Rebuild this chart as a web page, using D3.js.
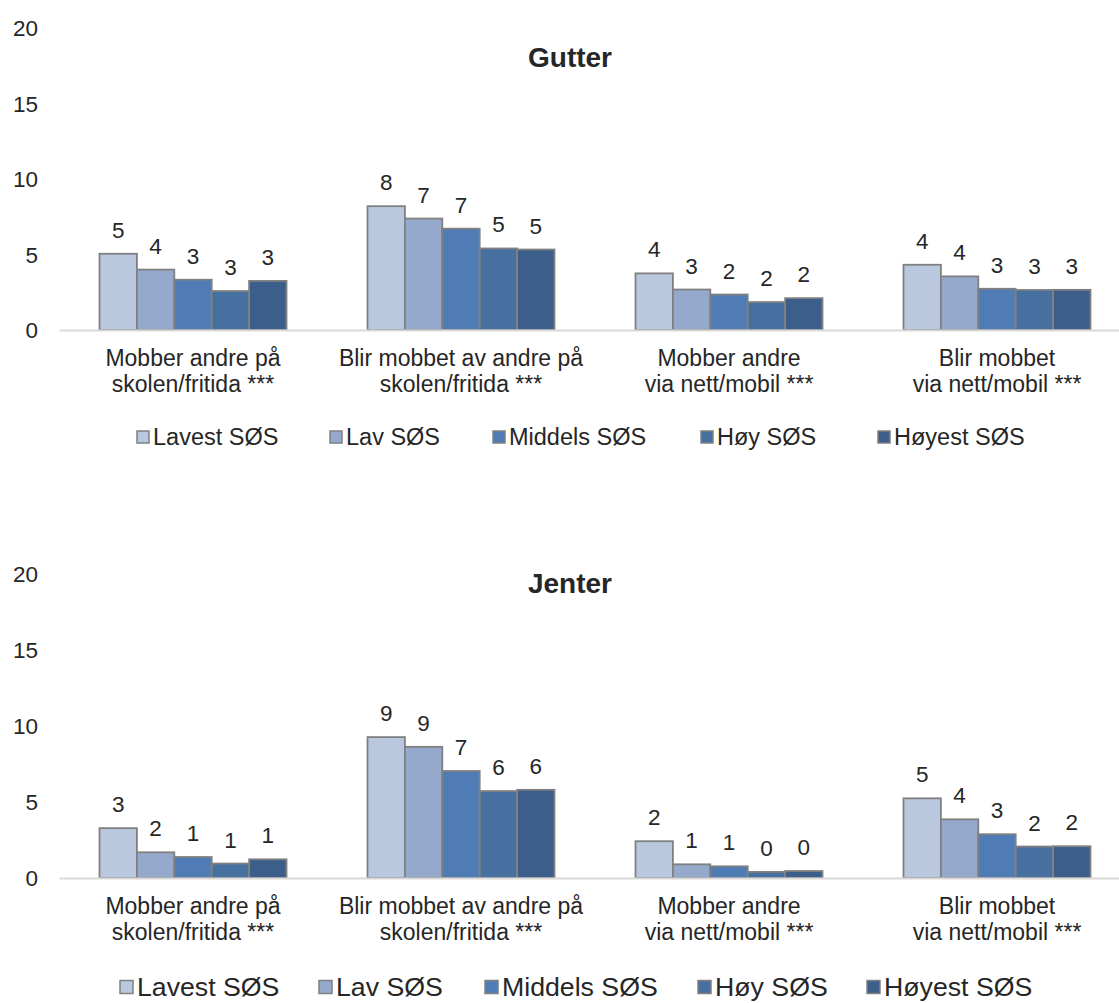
<!DOCTYPE html>
<html>
<head>
<meta charset="utf-8">
<script src="https://cdn.jsdelivr.net/npm/d3@7"></script>
<style>
  html, body { margin: 0; padding: 0; background: #fff; }
  svg { display: block; font-family: "Liberation Sans", Arial, sans-serif; }
</style>
</head>
<body>
<svg id="chart" width="1119" height="1003"></svg>
<script>
// ---------- data ----------
const categories = [
  ["Mobber andre på", "skolen/fritida ***"],
  ["Blir mobbet av andre på", "skolen/fritida ***"],
  ["Mobber andre", "via nett/mobil ***"],
  ["Blir mobbet", "via nett/mobil ***"]
];
const seriesNames = ["Lavest SØS", "Lav SØS", "Middels SØS", "Høy SØS", "Høyest SØS"];
const yTicks = [0, 5, 10, 15, 20];

// Gutter (boys): one array per series, values per category
const gutterLavest  = [5.05, 8.20, 3.75, 4.32];
const gutterLav     = [4.00, 7.38, 2.68, 3.55];
const gutterMiddels = [3.33, 6.71, 2.35, 2.73];
const gutterHoy     = [2.58, 5.40, 1.85, 2.65];
const gutterHoyest  = [3.25, 5.33, 2.11, 2.66];

// Jenter (girls)
const jenterLavest  = [3.28, 9.27, 2.42, 5.24];
const jenterLav     = [1.69, 8.63, 0.90, 3.86];
const jenterMiddels = [1.38, 7.04, 0.77, 2.88];
const jenterHoy     = [0.95, 5.72, 0.40, 2.07];
const jenterHoyest  = [1.23, 5.80, 0.46, 2.09];

const gutterSeries = [gutterLavest, gutterLav, gutterMiddels, gutterHoy, gutterHoyest];
const jenterSeries = [jenterLavest, jenterLav, jenterMiddels, jenterHoy, jenterHoyest];

// ---------- styles ----------
const colors = ["#bac8df", "#94a9cb", "#4f7cb4", "#46709f", "#3b5e8b"];
const textColor = "#262626";
const svg = d3.select("#chart");

function drawPanel(cfg) {
  const { title, seriesData, y0, y20, titleY, catY, legendY, legendX, legendFont, legendBox } = cfg;
  const g = svg.append("g");

  const x0 = d3.scaleBand().domain(d3.range(categories.length)).range([59, 1131]).paddingInner(0).paddingOuter(0);
  const groupW = 187;
  const x1 = d3.scaleBand().domain(d3.range(seriesNames.length))
    .range([(x0.bandwidth() - groupW) / 2, (x0.bandwidth() + groupW) / 2]);
  const y = d3.scaleLinear().domain([0, 20]).range([y0, y20]);

  // y axis labels (no line)
  const yAxis = d3.axisLeft(y).tickValues(yTicks).tickSize(0).tickPadding(0);
  const ya = g.append("g").attr("transform", "translate(38,0)").call(yAxis);
  ya.select(".domain").remove();
  ya.selectAll("text").attr("font-size", 22.5).attr("fill", textColor)
    .attr("font-family", "'Liberation Sans', Arial, sans-serif").attr("dy", "0.35em");

  // title
  g.append("text").attr("x", 570).attr("y", titleY).attr("text-anchor", "middle")
    .attr("font-size", 28).attr("font-weight", "bold").attr("fill", textColor).text(title);

  // bars
  const groups = g.selectAll("g.grp").data(categories).join("g")
    .attr("class", "grp").attr("transform", (d, i) => `translate(${x0(i)},0)`);
  groups.each(function (cat, ci) {
    const gg = d3.select(this);
    seriesNames.forEach((s, si) => {
      const v = seriesData[si][ci];
      gg.append("rect")
        .attr("x", x1(si)).attr("width", x1.bandwidth())
        .attr("y", y(v)).attr("height", y(0) - y(v))
        .attr("fill", colors[si]).attr("stroke", "#808080").attr("stroke-width", 1.8);
      gg.append("text")
        .attr("x", x1(si) + x1.bandwidth() / 2).attr("y", y(v) - 16)
        .attr("text-anchor", "middle").attr("font-size", 22.5).attr("fill", textColor)
        .text(d3.format(".0f")(v));
    });
  });

  // x axis line
  const xAxis = d3.axisBottom(x0).tickSize(0).tickFormat("");
  const xa = g.append("g").attr("transform", `translate(0,${y(0)})`).call(xAxis);
  xa.select(".domain").attr("stroke", "#d9d9d9").attr("stroke-width", 2);

  // category labels
  categories.forEach((lines, ci) => {
    const t = g.append("text").attr("text-anchor", "middle").attr("font-size", 23).attr("fill", textColor);
    lines.forEach((ln, li) => {
      t.append("tspan").attr("x", x0(ci) + x0.bandwidth() / 2).attr("y", catY + li * 25.5).text(ln);
    });
  });

  // legend
  seriesNames.forEach((s, si) => {
    const lx = legendX[si];
    g.append("rect").attr("x", lx).attr("y", legendY - legendBox / 2).attr("width", legendBox).attr("height", legendBox)
      .attr("fill", colors[si]).attr("stroke", "#808080").attr("stroke-width", 1.5);
    g.append("text").attr("x", lx + legendBox + 4).attr("y", legendY).attr("dy", "0.35em")
      .attr("font-size", legendFont).attr("fill", textColor).text(s);
  });
}

drawPanel({
  title: "Gutter", seriesData: gutterSeries, y0: 330, y20: 28, titleY: 67,
  catY: 366, legendY: 437, legendX: [137, 330, 493, 701, 878], legendFont: 23.5, legendBox: 12
});
drawPanel({
  title: "Jenter", seriesData: jenterSeries, y0: 878, y20: 574, titleY: 593,
  catY: 914, legendY: 987, legendX: [120, 319, 485, 698, 867], legendFont: 26.7, legendBox: 13
});
</script>
</body>
</html>
